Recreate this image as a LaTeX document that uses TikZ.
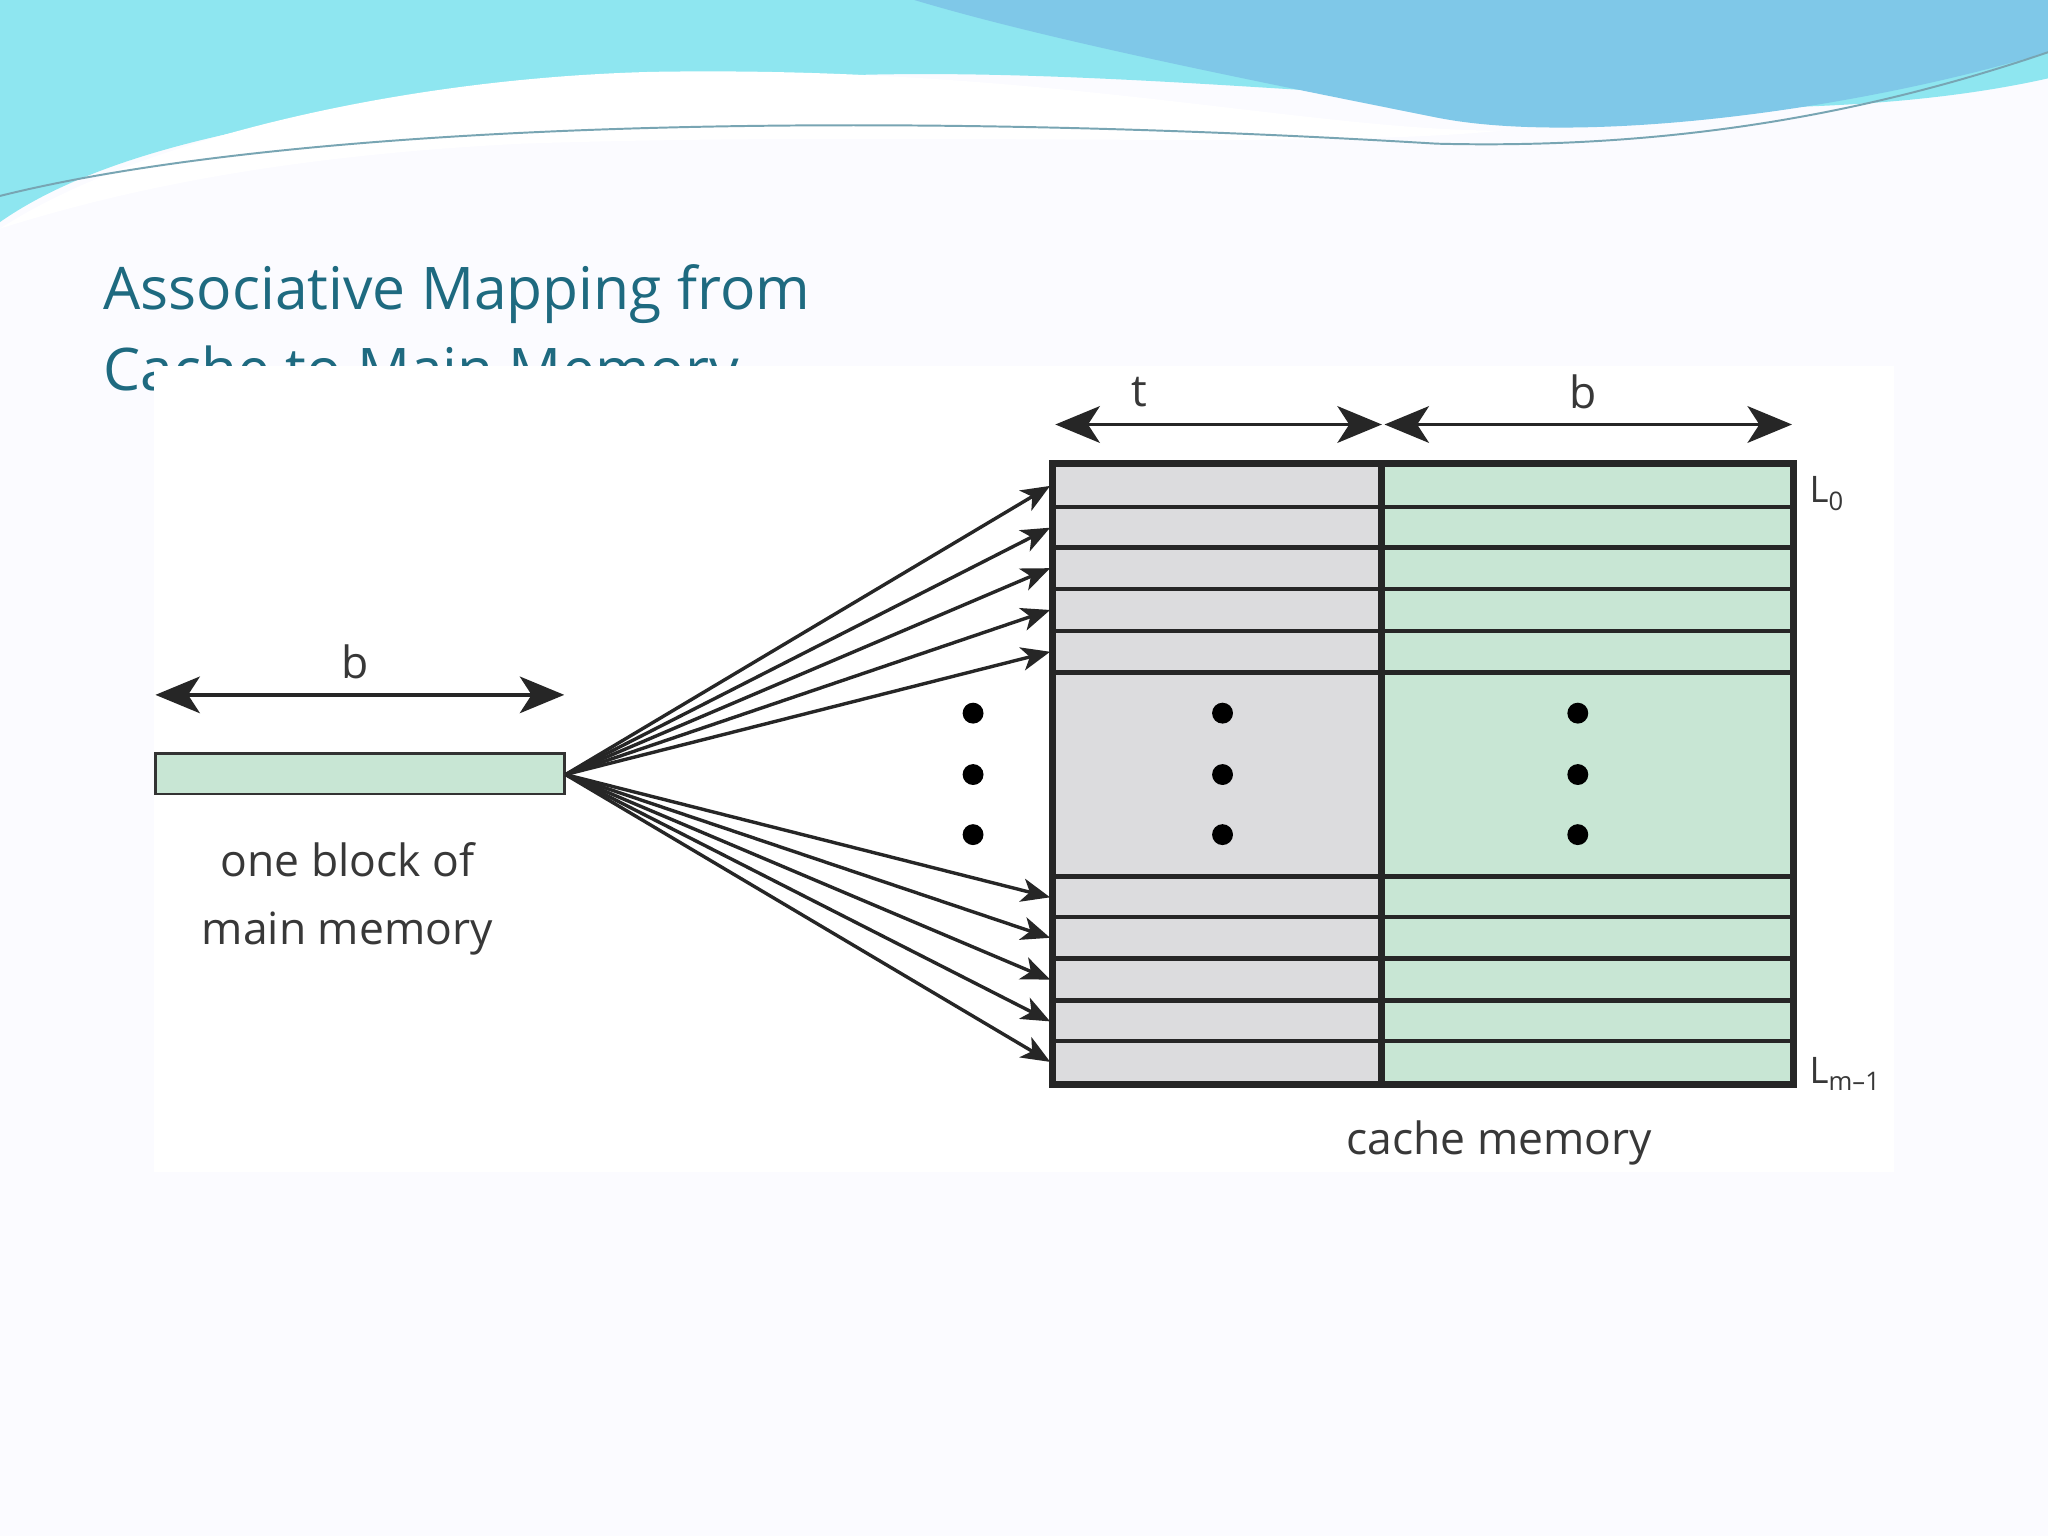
\documentclass[tikz,border=0pt]{standalone}
\usepackage{fontspec}
\setmainfont{Open Sans}
\usetikzlibrary{arrows.meta}
\definecolor{cg}{HTML}{DCDCDE}
\definecolor{cgr}{HTML}{C8E6D4}
\definecolor{ttl}{HTML}{1E6A80}
\definecolor{wv1}{HTML}{8EE6F0}
\definecolor{wv2}{HTML}{7FC8E8}
\begin{document}
\begin{tikzpicture}[x=1pt,y=-1pt,
  arr/.style={line width=2.6pt,-{Stealth[length=22pt,width=18pt,inset=6pt]}},
  dim/.style={line width=3pt,{Stealth[length=34pt,width=28pt,inset=9pt]}-{Stealth[length=34pt,width=28pt,inset=9pt]}},
  lbl/.style={font=\fontsize{34}{40}\selectfont,text=black!78},
  dot/.style={circle,fill=black,inner sep=0pt,minimum size=16pt}]
\useasboundingbox (0,0) rectangle (1568,1176);
\fill[white!95!blue!30] (0,0) rectangle (1568,1176);
% waves
\fill[wv1] (0,0) -- (1568,0) -- (1568,60) .. controls (1300,120) and (900,40) .. (600,60) .. controls (300,70) and (100,100) .. (0,170) -- cycle;
\fill[wv2] (700,0) -- (1568,0) -- (1568,40) .. controls (1400,90) and (1200,110) .. (1100,90) .. controls (950,60) and (800,30) .. (700,0) -- cycle;
\fill[white] (0,175) .. controls (100,110) and (300,60) .. (500,55) .. controls (800,50) and (1000,100) .. (1150,100) .. controls (1000,115) and (700,100) .. (400,110) .. controls (200,120) and (80,150) .. (0,175) -- cycle;
\draw[ttl!60,line width=1.5pt] (0,150) .. controls (200,100) and (600,80) .. (1100,110) .. controls (1300,115) and (1450,80) .. (1568,40);
% title
\node[anchor=north west,text=ttl,font=\fontsize{45}{62}\selectfont,align=left,inner sep=0pt] (title) at (79,202) {Associative Mapping from\\Cache to Main Memory};
\fill[white] (118,280) rectangle (1450,897);
% cache rows
\foreach \a/\b [count=\i] in {355/388,388/419,419/451,451/483,483/515,515/671,671/702,702/734,734/766,766/797,797/830}{
  \fill[cg] (806,\a) rectangle (1058,\b);
  \fill[cgr] (1058,\a) rectangle (1373,\b);
  \draw[line width=3.5pt,black!85] (806,\a) -- (1373,\a);
}
\draw[line width=5.5pt,black!85] (806,355) rectangle (1373,830);
\draw[line width=5.5pt,black!85] (1058,355) -- (1058,830);
% block
\node[draw=black!80,line width=2pt,fill=cgr,minimum width=313pt,minimum height=31pt,inner sep=0pt] (blk) at (275.5,592.5) {};
\coordinate (src) at (433,593);
\foreach \y [count=\i] in {372,404,435,467,499,687,718,750,782,813}{
  \coordinate (t\i) at (804,\y);
  \draw[arr,black!85] (src) -- (t\i);
}
% dots
\foreach \x in {745,936,1208}\foreach \y in {546,593,639} \node[dot] at (\x,\y) {};
% dims
\coordinate (d1) at (808,325); \coordinate (d2) at (1058,325); \coordinate (d3) at (1060,325); \coordinate (d4) at (1372,325);
\draw[dim,black!85] (d1) -- (d2); \draw[dim,black!85] (d3) -- (d4);
\coordinate (d5) at (119,532); \coordinate (d6) at (432,532);
\draw[dim,black!85] (d5) -- (d6);
\node[lbl] (lt) at (872,300) {t};
\node[lbl] (lb1) at (1212,300) {b};
\node[lbl] (lb2) at (272,507) {b};
\node[lbl,align=center,font=\fontsize{34}{52}\selectfont] (lblk) at (266,688) {one block of\\main memory};
\node[lbl] (lcache) at (1148,875) {cache memory};
\node[lbl,font=\fontsize{28}{32}\selectfont,anchor=west] (l0) at (1382,378) {L\textsubscript{0}};
\node[lbl,font=\fontsize{28}{32}\selectfont,anchor=west] (lm) at (1382,822) {L\textsubscript{m{\textendash}1}};
\end{tikzpicture}
\end{document}
